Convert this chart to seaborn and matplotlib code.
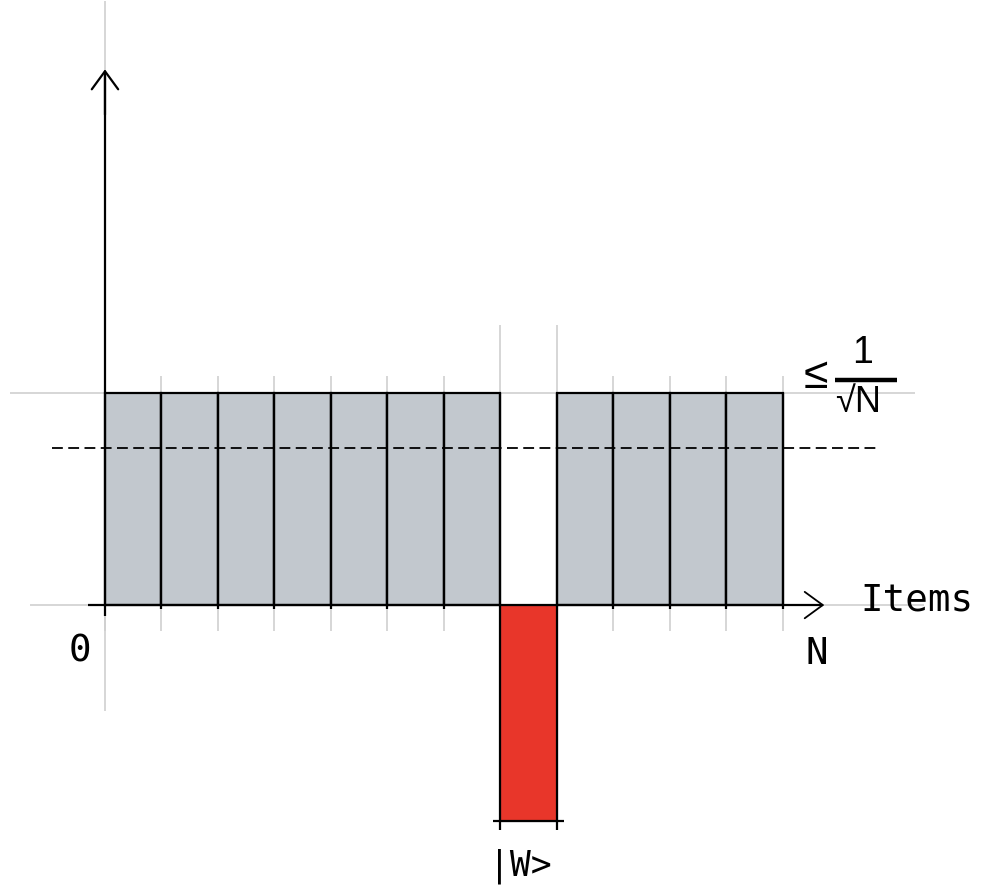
import matplotlib
matplotlib.use('Agg')
import seaborn as sns
import matplotlib.pyplot as plt
import numpy as np
import pandas as pd

# amplitudes of the items (sketch of one Grover step)
items = ['item%d' % i for i in range(12)]
amplitudes = [1, 1, 1, 1, 1, 1, 1, -1.02, 1, 1, 1, 1]
marked = 7
mean_amplitude = 0.74

grey = '#c2c8ce'
red = '#e8362a'
light = '#cfcfcf'
colors = [red if i == marked else grey for i in range(len(items))]

df = pd.DataFrame({'item': items, 'amplitude': amplitudes})

sns.set_style('white')
plt.rcParams['font.family'] = ['DejaVu Sans Mono', 'DejaVu Sans']
plt.rcParams['text.color'] = 'black'

fig = plt.figure(figsize=(9.82, 8.9), dpi=100)
ax = fig.add_axes([0, 0, 1, 1])

sns.barplot(data=df, x='item', y='amplitude', hue='item',
            palette=dict(zip(items, colors)), width=1, legend=False,
            saturation=1, edgecolor='black', linewidth=1.6, ax=ax, zorder=2)
bars = ax.patches
bars[marked].set_edgecolor('#3b2a6b')
bars[marked].set_linewidth(0.8)

n = len(items)
edges = np.arange(n + 1) - 0.5

# light guide lines
for i, e in enumerate(edges):
    top = 1.32 if i in (marked, marked + 1) else 1.08
    ax.vlines(e, -0.12, top, color=light, lw=1.2, zorder=1)
ax.vlines(edges[0], -0.5, 2.85, color=light, lw=1.2, zorder=1)
ax.hlines(1, -2.18, 13.84, color=light, lw=1.2, zorder=1)
ax.hlines(0, -1.83, 14.0, color=light, lw=1.2, zorder=1)

# black edges for the gap and the marked bar
ax.vlines([edges[marked], edges[marked + 1]], -1.06, 1.0, color='black', lw=1.6, zorder=3)
ax.hlines(-1.02, edges[marked] - 0.13, edges[marked + 1] + 0.13, color='black', lw=1.6, zorder=3)
ax.vlines(edges[1:marked], -0.02, 1.0, color='black', lw=1.6, zorder=3)
ax.vlines(edges[marked + 2:], -0.02, 1.0, color='black', lw=1.6, zorder=3)

# mean line
ax.hlines(mean_amplitude, -1.44, 13.22, color='black', lw=1.3,
          linestyles=(0, (6, 3)), zorder=4)

# axes with arrows
ax.vlines(edges[0], -0.05, 2.5, color='black', lw=1.6, zorder=3)
ax.annotate('', xy=(edges[0], 2.54), xytext=(edges[0], 2.3),
            arrowprops=dict(arrowstyle='->,head_length=13,head_width=9.5',
                            mutation_scale=1, lw=1.6, color='black'))
ax.hlines(0, -0.8, 12.2, color='black', lw=1.6, zorder=3)
ax.annotate('', xy=(12.28, 0), xytext=(11.9, 0),
            arrowprops=dict(arrowstyle='->,head_length=13,head_width=9.5',
                            mutation_scale=1, lw=1.3, color='black'))

# labels
ax.text(-0.94, -0.22, '0', fontsize=27, ha='center', va='center')
ax.text(12.1, -0.23, 'N', fontsize=27, ha='center', va='center')
ax.text(13.87, 0.02, 'Items', fontsize=27, ha='center', va='center')
ax.text(6.85, -1.23, '|W>', fontsize=25, ha='center', va='center')

ax.text(12.08, 1.08, '≤', fontsize=32, ha='center', va='center', family='Liberation Sans')
ax.text(12.9, 1.19, '1', fontsize=27, ha='center', va='center', family='Liberation Sans')
ax.hlines(1.06, 12.42, 13.52, color='black', lw=3.2, zorder=4)
ax.text(12.83, 0.955, '√N', fontsize=26, ha='center', va='center', family='Liberation Sans')

ax.set_xlim(-2.358, 15.022)
ax.set_ylim(-1.344, 2.854)
ax.set_axis_off()

fig.savefig('out.png', dpi=100)
